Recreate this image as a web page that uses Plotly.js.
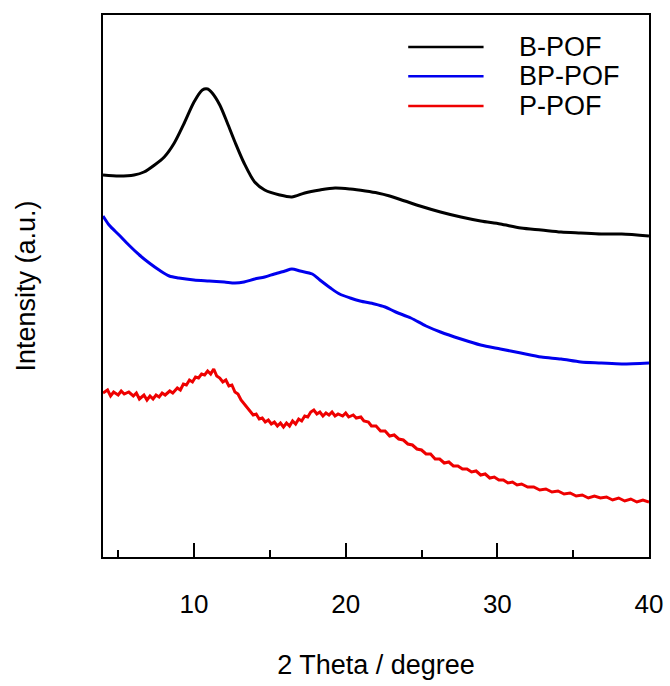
<!DOCTYPE html>
<html>
<head>
<meta charset="utf-8">
<script src="https://cdn.plot.ly/plotly-3.0.1.min.js"></script>
<style>html,body{margin:0;padding:0;background:#fff;}#chart{width:670px;height:686px;}</style>
</head>
<body>
<div id="chart"></div>
<script>
const seriesNames = ["B-POF", "BP-POF", "P-POF"];
const seriesColors = ["#000000", "#0000ee", "#ee0000"];

const bX = [4, 5.06, 6.05, 6.7, 7.4, 8.04, 8.7, 9.36, 10.0, 10.55, 10.9, 11.2, 11.7, 12.2, 12.7, 13.3, 14.0, 14.66, 15.65, 16.45, 17.3, 18.3, 19.3, 20.3, 21.3, 22.1, 22.9, 23.9, 24.9, 26.25, 27.6, 28.9, 30.2, 31.55, 32.9, 34.2, 35.5, 36.85, 38.2, 40];
const bY = [382, 381, 382, 385, 392, 400, 414, 434, 455, 467, 468, 464, 452, 434, 415, 394, 375, 367, 362, 360, 364, 367, 369, 368, 366, 364, 361, 356, 351, 345, 340, 336, 333, 329, 327, 325, 324, 323, 323, 321];

const bpX = [4, 4.4, 5.06, 5.7, 6.4, 7.05, 7.7, 8.37, 9.0, 10.0, 11.0, 12.0, 12.7, 13.3, 14.0, 14.66, 15.3, 16.0, 16.45, 17.0, 17.8, 18.3, 19.0, 19.6, 20.3, 20.95, 21.9, 22.6, 23.3, 24.3, 25.3, 26.25, 27.6, 28.9, 30.2, 31.55, 32.9, 34.2, 35.5, 36.85, 38.2, 40];
const bpY = [341, 332, 322, 312, 302, 294, 287, 281, 279, 277, 276, 275, 274, 275, 278, 280, 283, 286, 288, 286, 283, 277, 269, 263, 259, 256, 253, 250, 245, 239, 231, 225, 218, 212, 208, 204, 200, 198, 195, 194, 193, 194];

const pX = [4.0, 4.3, 4.5, 4.7, 5.0, 5.2, 5.4, 5.7, 6.0, 6.2, 6.4, 6.7, 6.9, 7.1, 7.3, 7.5, 7.7, 7.9, 8.1, 8.4, 8.6, 8.9, 9.1, 9.3, 9.5, 9.7, 9.9, 10.1, 10.3, 10.5, 10.7, 10.9, 11.1, 11.3, 11.5, 11.7, 11.9, 12.1, 12.3, 12.5, 12.7, 12.9, 13.1, 13.3, 13.5, 13.7, 13.9, 14.1, 14.3, 14.5, 14.7, 14.9, 15.1, 15.3, 15.5, 15.7, 15.9, 16.1, 16.3, 16.5, 16.7, 16.9, 17.1, 17.3, 17.5, 17.7, 17.9, 18.1, 18.3, 18.5, 18.7, 18.9, 19.1, 19.3, 19.5, 19.8, 20.0, 20.2, 20.5, 20.7, 21.0, 21.2, 21.5, 21.7, 22.0, 22.3, 22.6, 22.9, 23.2, 23.5, 23.8, 24.1, 24.4, 24.7, 25.0, 25.3, 25.6, 25.9, 26.2, 26.5, 26.8, 27.1, 27.4, 27.7, 28.0, 28.3, 28.6, 28.9, 29.2, 29.5, 29.8, 30.1, 30.4, 30.7, 31.0, 31.3, 31.6, 32.0, 32.4, 32.8, 33.2, 33.6, 34.0, 34.4, 34.8, 35.2, 35.6, 36.0, 36.4, 36.8, 37.2, 37.6, 38.0, 38.4, 38.8, 39.2, 39.6, 40.0];
const pY = [164, 167, 161, 165, 162, 166, 163, 165, 161, 164, 158, 162, 157, 161, 158, 162, 160, 164, 162, 166, 164, 169, 167, 173, 172, 177, 175, 180, 179, 183, 182, 186, 183, 188, 181, 179, 175, 177, 171, 172, 165, 163, 157, 153, 149, 146, 142, 143, 138, 139, 135, 137, 133, 135, 131, 134, 130, 134, 131, 136, 133, 138, 136, 141, 140, 145, 147, 143, 145, 141, 144, 142, 145, 141, 143, 141, 144, 140, 142, 139, 140, 136, 135, 131, 131, 126, 126, 121, 122, 118, 117, 113, 112, 108, 107, 103, 103, 98, 98, 94, 95, 91, 91, 88, 88, 85, 86, 82, 83, 79, 80, 77, 77, 74, 75, 72, 73, 70, 70, 67, 68, 65, 66, 63, 64, 61, 62, 59, 61, 59, 60, 57, 59, 56, 58, 55, 57, 55];

const xTickVals = [10, 20, 30, 40];
const xTickText = ["10", "20", "30", "40"];

const FONT = "Liberation Sans, Arial, sans-serif";

const traces = [
  {x: bX, y: bY, name: seriesNames[0], mode: "lines", line: {color: seriesColors[0], width: 3, shape: "spline", smoothing: 0.8}},
  {x: bpX, y: bpY, name: seriesNames[1], mode: "lines", line: {color: seriesColors[1], width: 3, shape: "spline", smoothing: 0.8}},
  {x: pX, y: pY, name: seriesNames[2], mode: "lines", line: {color: seriesColors[2], width: 3}}
];

const legendY = [0.941, 0.887, 0.832];
const shapes = [];
const annotations = [];
seriesNames.forEach((n, i) => {
  shapes.push({type: "line", xref: "paper", yref: "paper", x0: 0.559, x1: 0.697, y0: legendY[i], y1: legendY[i],
    line: {color: seriesColors[i], width: 2.6}});
  annotations.push({xref: "paper", yref: "paper", x: 0.759, y: legendY[i], xanchor: "left", yanchor: "middle",
    text: n, showarrow: false, font: {family: FONT, size: 27, color: "#000"}});
});

const layout = {
  width: 670, height: 686,
  margin: {l: 103, r: 21, t: 15, b: 129},
  paper_bgcolor: "#fff", plot_bgcolor: "#fff",
  showlegend: false,
  font: {family: FONT, color: "#000"},
  xaxis: {
    range: [4, 40], tickvals: xTickVals, ticktext: xTickText,
    ticks: "inside", ticklen: 14, tickwidth: 2, tickcolor: "#000",
    minor: {dtick: 5, tick0: 0, ticks: "inside", ticklen: 7, tickwidth: 2, tickcolor: "#000"},
    showline: true, linewidth: 2, linecolor: "#000", mirror: true,
    showgrid: false, zeroline: false,
    tickfont: {family: FONT, size: 26, color: "#000"},
    ticklabelstandoff: 23,
    title: {text: "2 Theta / degree", font: {family: FONT, size: 27, color: "#000"}, standoff: 37},
    automargin: false
  },
  yaxis: {
    range: [0, 542],
    showticklabels: false, ticks: "",
    showline: true, linewidth: 2, linecolor: "#000", mirror: true,
    showgrid: false, zeroline: false,
    title: {text: "Intensity (a.u.)", font: {family: FONT, size: 27, color: "#000"}, standoff: 58},
    automargin: true
  },
  shapes: shapes,
  annotations: annotations
};

Plotly.newPlot("chart", traces, layout, {displayModeBar: false, staticPlot: true});
</script>
</body>
</html>
